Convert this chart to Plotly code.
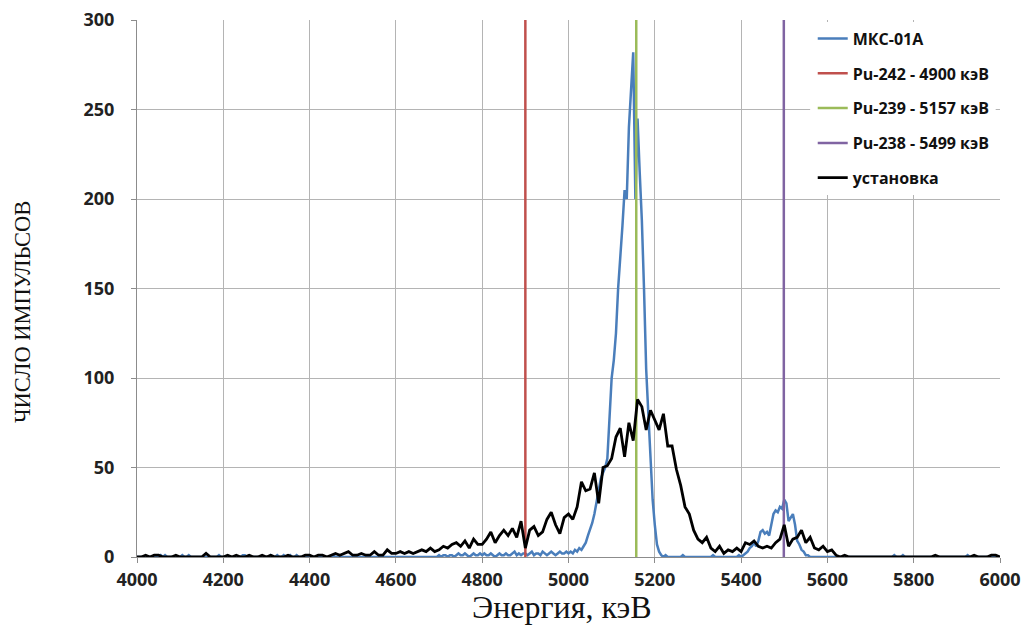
import plotly.graph_objects as go

# ---- data -------------------------------------------------------------
# Channel grid (keV)
blue_start, blue_step = 4000, 5
black_start, black_step = 4000, 10

# МКС-01А spectrum, 5 keV channels from 4000 keV (one row = 100 keV)
mks_counts = [
    0, 0, 0, 0, 0, 0, 0, 0, 0, 0, 0, 1, 0, 1, 0, 0, 0, 0, 0, 0,            # 4000
    0, 1, 0, 0, 1, 0, 0, 0, 0, 0, 0, 0, 0, 0, 0, 0, 0, 0, 1, 0,            # 4100
    0, 0, 0, 0, 0, 0, 0, 0, 0, 1, 1, 0, 0, 0, 0, 0, 0, 0, 0, 0,            # 4200
    0, 0, 1, 0, 0, 1, 0, 0, 1, 0, 0, 1, 0, 0, 1, 0, 0, 0, 0, 0,            # 4300
    0, 0, 0, 0, 0, 0, 0, 0, 0, 0, 0, 1, 0, 0, 0, 0, 0, 0, 0, 0,            # 4400
    0, 0, 0, 0, 0, 0, 0, 0, 0, 0, 0, 0, 0, 0, 0, 0, 0, 0, 0, 0,            # 4500
    0, 0, 0, 0, 0, 0, 0, 0, 0, 0, 0, 0, 0, 0, 0, 0, 0, 0, 0, 0,            # 4600
    1, 0, 1, 1, 0, 1, 1, 0, 1, 2, 1, 1, 2, 1, 0, 1, 2, 1, 1, 2,            # 4700
    1, 2, 1, 1, 2, 1, 0, 1, 2, 1, 1, 2, 1, 1, 2, 3, 1, 2, 1, 2,            # 4800
    2, 1, 2, 3, 1, 2, 2, 1, 3, 2, 1, 2, 3, 2, 1, 2, 3, 2, 2, 3,            # 4900
    2, 3, 2, 4, 3, 5, 4, 6, 8, 12, 15, 19, 24, 30, 38, 44, 47, 50, 55, 75,  # 5000
    100, 110, 125, 150, 165, 185, 205, 200, 240, 260,
    282, 200, 245, 215, 188, 150, 105, 80, 55, 32,                         # 5100
    18, 7, 3, 1, 0, 1, 0, 0, 0, 0, 0, 0, 0, 1, 0, 0, 0, 0, 0, 0,           # 5200
    0, 0, 0, 0, 0, 0, 0, 1, 0, 0, 0, 0, 0, 0, 0, 0, 0, 0, 0, 1,            # 5300
    0, 1, 2, 3, 5, 6, 8, 6, 9, 14, 15, 13, 14, 12, 18, 24, 26, 25, 28, 27,  # 5400
    32, 30, 20, 22, 24, 18, 9, 7, 4, 3, 1, 1, 0, 0, 0, 0, 0, 0, 0, 0,       # 5500
    0, 0, 0, 0, 0, 0, 0, 0, 0, 0, 0, 0, 0, 0, 0, 0, 0, 0, 0, 0,            # 5600
    0, 0, 0, 0, 0, 0, 0, 0, 0, 0, 0, 1, 0, 0, 0, 1, 0, 0, 0, 0,            # 5700
    0, 0, 0, 0, 0, 0, 0, 0, 0, 0, 0, 0, 0, 0, 0, 0, 0, 0, 0, 0,            # 5800
    0, 0, 0, 0, 0, 1, 0, 0, 0, 0, 0, 0, 0, 0, 0, 0, 0, 0, 0, 0,            # 5900
    0,                                                                     # 6000
]

# "установка" spectrum, 10 keV channels from 4000 keV (one row = 100 keV)
setup_counts = [
    0, 0, 1, 0, 1, 1, 0, 0, 0, 1,        # 4000
    0, 0, 0, 0, 0, 0, 2, 0, 0, 0,        # 4100
    0, 1, 0, 1, 0, 0, 1, 0, 0, 1,        # 4200
    0, 1, 0, 0, 0, 1, 0, 0, 0, 1,        # 4300
    1, 0, 1, 1, 0, 1, 2, 1, 2, 3,        # 4400
    1, 1, 2, 1, 1, 3, 1, 1, 4, 2,        # 4500
    2, 3, 2, 3, 2, 3, 4, 3, 5, 3,        # 4600
    4, 6, 5, 7, 8, 6, 9, 5, 10, 7,       # 4700
    7, 10, 14, 8, 12, 15, 12, 16, 11, 20,  # 4800
    5, 15, 17, 12, 14, 21, 25, 18, 13, 22,  # 4900
    24, 21, 28, 42, 37, 38, 47, 30, 50, 51,  # 5000
    55, 67, 72, 56, 75, 65, 88, 84, 71, 82,  # 5100
    76, 71, 80, 62, 62, 49, 40, 28, 24, 15,  # 5200
    10, 8, 11, 5, 3, 6, 2, 4, 3, 5,      # 5300
    3, 8, 7, 9, 6, 5, 6, 5, 8, 10,       # 5400
    18, 6, 10, 11, 15, 8, 11, 5, 4, 6,   # 5500
    3, 4, 1, 0, 1, 0, 0, 0, 0, 0,        # 5600
    0, 0, 0, 0, 0, 0, 0, 0, 0, 0,        # 5700
    0, 0, 0, 0, 0, 1, 0, 0, 0, 0,        # 5800
    0, 0, 0, 0, 1, 0, 0, 0, 1, 1,        # 5900
    0,                                   # 6000
]

# Reference lines for Pu isotopes
pu_names = ["Pu-242 - 4900 кэВ", "Pu-239 - 5157 кэВ", "Pu-238 - 5499 кэВ"]
pu_energies = [4900, 5157, 5499]
pu_colors = ["#C0504D", "#9BBB59", "#8064A2"]

x_ticks = [4000, 4200, 4400, 4600, 4800, 5000, 5200, 5400, 5600, 5800, 6000]
y_ticks = [0, 50, 100, 150, 200, 250, 300]
y_max = 300

x_title = "Энергия, кэВ"
y_title = "ЧИСЛО ИМПУЛЬСОВ"

mks_energy = [blue_start + blue_step * i for i in range(len(mks_counts))]
setup_energy = [black_start + black_step * i for i in range(len(setup_counts))]

# ---- figure ------------------------------------------------------------
fig = go.Figure()

fig.add_trace(go.Scatter(
    x=mks_energy, y=mks_counts, mode="lines", name="МКС-01А",
    line=dict(color="#4A7EBB", width=2.5), legendgroup="g1"))

for i, (nm, e, c) in enumerate(zip(pu_names, pu_energies, pu_colors)):
    fig.add_trace(go.Scatter(
        x=[e, e], y=[0, y_max], mode="lines", name=nm,
        line=dict(color=c, width=2.5), legendgroup=f"p{i}"))

fig.add_trace(go.Scatter(
    x=setup_energy, y=setup_counts, mode="lines", name="установка",
    line=dict(color="#000000", width=2.8), legendgroup="g5"))

grid_col = "#B4B4B4"
tick_font = dict(family="Open Sans", size=18, color="#222222", weight="bold")

fig.update_layout(
    width=1024, height=627,
    margin=dict(l=137, r=24, t=20, b=70, autoexpand=False),
    paper_bgcolor="white", plot_bgcolor="white",
    showlegend=True,
    legend=dict(
        x=0.783, y=0.997, xanchor="left", yanchor="top",
        bgcolor="white", borderwidth=0,
        font=dict(family="Open Sans", size=16, color="#111111", weight="bold"),
        tracegroupgap=11, itemwidth=30,
    ),
    xaxis=dict(
        range=[4000, 6000], tickvals=x_ticks, ticktext=[str(v) for v in x_ticks],
        showgrid=True, gridcolor=grid_col, gridwidth=1,
        showline=True, linecolor="#8C8C8C", linewidth=1,
        ticks="outside", ticklen=5, tickcolor="#8C8C8C",
        tickfont=tick_font, zeroline=False, ticklabelstandoff=1,
        ticklabeloverflow="allow", automargin=False,
    ),
    yaxis=dict(
        range=[0, y_max], tickvals=y_ticks, ticktext=[str(v) for v in y_ticks],
        showgrid=True, gridcolor=grid_col, gridwidth=1,
        showline=True, linecolor="#8C8C8C", linewidth=1,
        ticks="outside", ticklen=5, tickcolor="#8C8C8C",
        tickfont=tick_font, zeroline=False, ticklabelstandoff=13,
        ticklabeloverflow="allow", automargin=False,
    ),
    annotations=[
        dict(text=x_title, xref="paper", yref="paper", x=0.4925, y=-0.093,
             xanchor="center", yanchor="middle", showarrow=False,
             font=dict(family="Liberation Serif", size=32, color="#111111")),
        dict(text=y_title, xref="paper", yref="paper", x=-0.1333, y=0.456,
             xanchor="center", yanchor="middle", showarrow=False, textangle=-90,
             font=dict(family="Liberation Serif", size=22.5, color="#111111")),
    ],
)

# white backing behind the legend, covering gridlines there
fig.add_shape(type="rect", xref="paper", yref="paper",
              x0=0.78, x1=0.995, y0=0.675, y1=0.99,
              fillcolor="white", line=dict(width=0), layer="above")

fig.write_html(
    "out.html",
    config={"displayModeBar": False},
    post_script="document.body.style.margin='0';document.body.style.overflow='hidden';",
)
